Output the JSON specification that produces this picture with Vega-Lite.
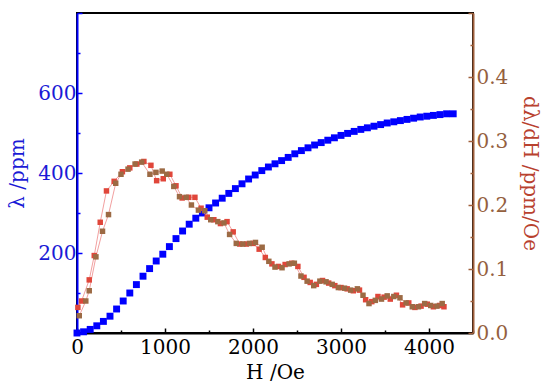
{
  "$schema": "https://vega.github.io/schema/vega-lite/v6.json",
  "autosize": {"type": "none"},
  "width": 396,
  "height": 320,
  "padding": {"left": 77, "top": 13, "right": 77, "bottom": 54},
  "background": "white",
  "config": {
    "font": "DejaVu Serif",
    "view": {"stroke": "black", "strokeWidth": 2},
    "axis": {"labelFont": "DejaVu Serif", "titleFont": "DejaVu Serif", "labelFontSize": 20, "titleFontSize": 20, "titleFontWeight": "normal", "grid": false, "domainWidth": 2, "tickWidth": 1.5}
  },
  "datasets": {
    "lam": [
      {"H": 0, "L": 0}, {"H": 75, "L": 3}, {"H": 150, "L": 9}, {"H": 225, "L": 18}, {"H": 300, "L": 29},
      {"H": 375, "L": 42}, {"H": 450, "L": 60}, {"H": 525, "L": 80}, {"H": 600, "L": 100}, {"H": 675, "L": 121},
      {"H": 750, "L": 142}, {"H": 825, "L": 161}, {"H": 900, "L": 180}, {"H": 975, "L": 197}, {"H": 1050, "L": 216},
      {"H": 1125, "L": 236}, {"H": 1200, "L": 255}, {"H": 1275, "L": 272}, {"H": 1350, "L": 287}, {"H": 1425, "L": 300},
      {"H": 1500, "L": 313}, {"H": 1575, "L": 325}, {"H": 1650, "L": 337}, {"H": 1725, "L": 349}, {"H": 1800, "L": 361},
      {"H": 1875, "L": 373}, {"H": 1950, "L": 385}, {"H": 2025, "L": 395}, {"H": 2100, "L": 406}, {"H": 2175, "L": 415},
      {"H": 2250, "L": 423}, {"H": 2325, "L": 431}, {"H": 2400, "L": 439}, {"H": 2475, "L": 448}, {"H": 2550, "L": 456},
      {"H": 2625, "L": 463}, {"H": 2700, "L": 470}, {"H": 2775, "L": 476}, {"H": 2850, "L": 482}, {"H": 2925, "L": 488},
      {"H": 3000, "L": 494}, {"H": 3075, "L": 499}, {"H": 3150, "L": 504}, {"H": 3225, "L": 509}, {"H": 3300, "L": 513},
      {"H": 3375, "L": 517}, {"H": 3450, "L": 521}, {"H": 3525, "L": 525}, {"H": 3600, "L": 528}, {"H": 3675, "L": 531},
      {"H": 3750, "L": 534}, {"H": 3825, "L": 537}, {"H": 3900, "L": 540}, {"H": 3975, "L": 542}, {"H": 4050, "L": 544},
      {"H": 4125, "L": 546}, {"H": 4200, "L": 548}, {"H": 4275, "L": 548}
    ],
    "der": [
      {"s": "a", "H": 10, "D": 0.040}, {"s": "a", "H": 52, "D": 0.050}, {"s": "a", "H": 139, "D": 0.083}, {"s": "a", "H": 196, "D": 0.121},
      {"s": "a", "H": 264, "D": 0.173}, {"s": "a", "H": 335, "D": 0.222}, {"s": "a", "H": 422, "D": 0.237}, {"s": "a", "H": 516, "D": 0.252},
      {"s": "a", "H": 600, "D": 0.258}, {"s": "a", "H": 680, "D": 0.264}, {"s": "a", "H": 760, "D": 0.268}, {"s": "a", "H": 840, "D": 0.262},
      {"s": "a", "H": 905, "D": 0.238}, {"s": "a", "H": 980, "D": 0.241}, {"s": "a", "H": 1055, "D": 0.248}, {"s": "a", "H": 1125, "D": 0.230},
      {"s": "a", "H": 1195, "D": 0.211}, {"s": "a", "H": 1270, "D": 0.212}, {"s": "a", "H": 1340, "D": 0.212}, {"s": "a", "H": 1410, "D": 0.195},
      {"s": "a", "H": 1480, "D": 0.181}, {"s": "a", "H": 1555, "D": 0.177}, {"s": "a", "H": 1630, "D": 0.171}, {"s": "a", "H": 1705, "D": 0.174},
      {"s": "a", "H": 1775, "D": 0.158}, {"s": "a", "H": 1850, "D": 0.139}, {"s": "a", "H": 1925, "D": 0.139}, {"s": "a", "H": 2000, "D": 0.140},
      {"s": "a", "H": 2070, "D": 0.131}, {"s": "a", "H": 2140, "D": 0.118}, {"s": "a", "H": 2215, "D": 0.108}, {"s": "a", "H": 2290, "D": 0.104},
      {"s": "a", "H": 2365, "D": 0.107}, {"s": "a", "H": 2440, "D": 0.109}, {"s": "a", "H": 2510, "D": 0.104}, {"s": "a", "H": 2580, "D": 0.087},
      {"s": "a", "H": 2650, "D": 0.079}, {"s": "a", "H": 2720, "D": 0.076}, {"s": "a", "H": 2790, "D": 0.082}, {"s": "a", "H": 2860, "D": 0.078},
      {"s": "a", "H": 2930, "D": 0.074}, {"s": "a", "H": 3000, "D": 0.071}, {"s": "a", "H": 3070, "D": 0.069}, {"s": "a", "H": 3140, "D": 0.066},
      {"s": "a", "H": 3210, "D": 0.067}, {"s": "a", "H": 3280, "D": 0.052}, {"s": "a", "H": 3350, "D": 0.049}, {"s": "a", "H": 3420, "D": 0.057},
      {"s": "a", "H": 3490, "D": 0.056}, {"s": "a", "H": 3560, "D": 0.053}, {"s": "a", "H": 3630, "D": 0.059}, {"s": "a", "H": 3700, "D": 0.044},
      {"s": "a", "H": 3770, "D": 0.047}, {"s": "a", "H": 3840, "D": 0.040}, {"s": "a", "H": 3910, "D": 0.042}, {"s": "a", "H": 3980, "D": 0.045},
      {"s": "a", "H": 4050, "D": 0.041}, {"s": "a", "H": 4120, "D": 0.043}, {"s": "a", "H": 4170, "D": 0.041},
      {"s": "b", "H": 26, "D": 0.027}, {"s": "b", "H": 100, "D": 0.050}, {"s": "b", "H": 139, "D": 0.066}, {"s": "b", "H": 215, "D": 0.119},
      {"s": "b", "H": 290, "D": 0.159}, {"s": "b", "H": 358, "D": 0.185}, {"s": "b", "H": 440, "D": 0.234}, {"s": "b", "H": 500, "D": 0.248},
      {"s": "b", "H": 580, "D": 0.256}, {"s": "b", "H": 660, "D": 0.264}, {"s": "b", "H": 735, "D": 0.267}, {"s": "b", "H": 829, "D": 0.248},
      {"s": "b", "H": 897, "D": 0.251}, {"s": "b", "H": 968, "D": 0.253}, {"s": "b", "H": 1020, "D": 0.248}, {"s": "b", "H": 1100, "D": 0.229},
      {"s": "b", "H": 1165, "D": 0.213}, {"s": "b", "H": 1240, "D": 0.212}, {"s": "b", "H": 1300, "D": 0.200}, {"s": "b", "H": 1380, "D": 0.192},
      {"s": "b", "H": 1452, "D": 0.191}, {"s": "b", "H": 1520, "D": 0.177}, {"s": "b", "H": 1600, "D": 0.174}, {"s": "b", "H": 1670, "D": 0.172},
      {"s": "b", "H": 1734, "D": 0.154}, {"s": "b", "H": 1810, "D": 0.140}, {"s": "b", "H": 1885, "D": 0.139}, {"s": "b", "H": 1960, "D": 0.140},
      {"s": "b", "H": 2028, "D": 0.1415}, {"s": "b", "H": 2104, "D": 0.134}, {"s": "b", "H": 2180, "D": 0.112}, {"s": "b", "H": 2250, "D": 0.103},
      {"s": "b", "H": 2330, "D": 0.102}, {"s": "b", "H": 2410, "D": 0.108}, {"s": "b", "H": 2470, "D": 0.109}, {"s": "b", "H": 2545, "D": 0.089},
      {"s": "b", "H": 2615, "D": 0.081}, {"s": "b", "H": 2690, "D": 0.074}, {"s": "b", "H": 2760, "D": 0.081}, {"s": "b", "H": 2830, "D": 0.080},
      {"s": "b", "H": 2900, "D": 0.076}, {"s": "b", "H": 2970, "D": 0.071}, {"s": "b", "H": 3040, "D": 0.070}, {"s": "b", "H": 3110, "D": 0.067},
      {"s": "b", "H": 3186, "D": 0.069}, {"s": "b", "H": 3250, "D": 0.059}, {"s": "b", "H": 3318, "D": 0.046}, {"s": "b", "H": 3390, "D": 0.051},
      {"s": "b", "H": 3460, "D": 0.053}, {"s": "b", "H": 3525, "D": 0.058}, {"s": "b", "H": 3600, "D": 0.057}, {"s": "b", "H": 3670, "D": 0.055},
      {"s": "b", "H": 3740, "D": 0.047}, {"s": "b", "H": 3810, "D": 0.041}, {"s": "b", "H": 3880, "D": 0.041}, {"s": "b", "H": 3951, "D": 0.046},
      {"s": "b", "H": 4020, "D": 0.043}, {"s": "b", "H": 4090, "D": 0.042}, {"s": "b", "H": 4150, "D": 0.046}
    ]
  },
  "encoding": {
    "x": {
      "field": "H", "type": "quantitative",
      "scale": {"domain": [0, 4500], "nice": false, "zero": false},
      "axis": {
        "title": "H /Oe", "values": [0, 500, 1000, 1500, 2000, 2500, 3000, 3500, 4000, 4500],
        "labelExpr": "datum.value % 1000 === 0 && datum.value <= 4000 ? datum.label : ''",
        "format": "d",
        "labelFont": "DejaVu Serif", "titleFont": "DejaVu Serif",
        "domainColor": "black", "tickColor": "black", "labelColor": "black", "titleColor": "black",
        "tickSize": {"condition": {"test": "datum.value % 1000 === 0", "value": -5}, "value": -3},
        "labelPadding": 9, "titlePadding": 5, "labelFlush": false
      }
    }
  },
  "layer": [
    {
      "data": {"name": "lam"},
      "mark": {"type": "square", "filled": true, "size": 48, "opacity": 1, "color": "#0000ff"},
      "encoding": {
        "y": {
          "field": "L", "type": "quantitative",
          "scale": {"domain": [0, 800], "nice": false},
          "axis": {
            "title": "λ /ppm", "orient": "left",
            "values": [0, 100, 200, 300, 400, 500, 600, 700, 800],
            "labelExpr": "datum.value === 200 || datum.value === 400 || datum.value === 600 ? datum.label : ''",
            "labelFont": "DejaVu Serif", "titleFont": "DejaVu Serif",
            "domainColor": "#0000ff", "tickColor": "#0000ff", "labelColor": "#1a1ad6", "titleColor": "#1a1ad6",
            "tickSize": {"condition": {"test": "datum.value % 200 === 0", "value": -5}, "value": -3},
            "labelPadding": 6, "titlePadding": 10
          }
        }
      }
    },
    {
      "data": {"name": "der"},
      "encoding": {
        "y": {
          "field": "D", "type": "quantitative",
          "scale": {"domain": [0, 0.5], "nice": false},
          "axis": {
            "title": "dλ/dH /ppm/Oe", "orient": "right",
            "values": [0, 0.05, 0.1, 0.15, 0.2, 0.25, 0.3, 0.35, 0.4, 0.45, 0.5],
            "labelExpr": "(round(datum.value * 100) % 10 === 0) && datum.value < 0.45 ? format(datum.value, '.1f') : ''",
            "labelFont": "DejaVu Serif", "titleFont": "DejaVu Serif",
            "domainColor": "#a0603c", "tickColor": "#a0603c", "labelColor": "#94603e", "titleColor": "#b8412e",
            "tickSize": {"condition": {"test": "round(datum.value * 100) % 10 === 0", "value": -5}, "value": -3},
            "labelPadding": 8, "titlePadding": 12
          }
        }
      },
      "layer": [
        {
          "mark": {"type": "line", "color": "#f2a0a0", "strokeWidth": 1},
          "encoding": {"detail": {"field": "s"}, "order": {"field": "H", "type": "quantitative"}}
        },
        {
          "mark": {"type": "square", "filled": true, "size": 30, "opacity": 1},
          "encoding": {
            "color": {"field": "s", "type": "nominal", "scale": {"domain": ["a", "b"], "range": ["#e0463a", "#9c6a44"]}, "legend": null}
          }
        }
      ]
    }
  ],
  "resolve": {"scale": {"y": "independent"}}
}
